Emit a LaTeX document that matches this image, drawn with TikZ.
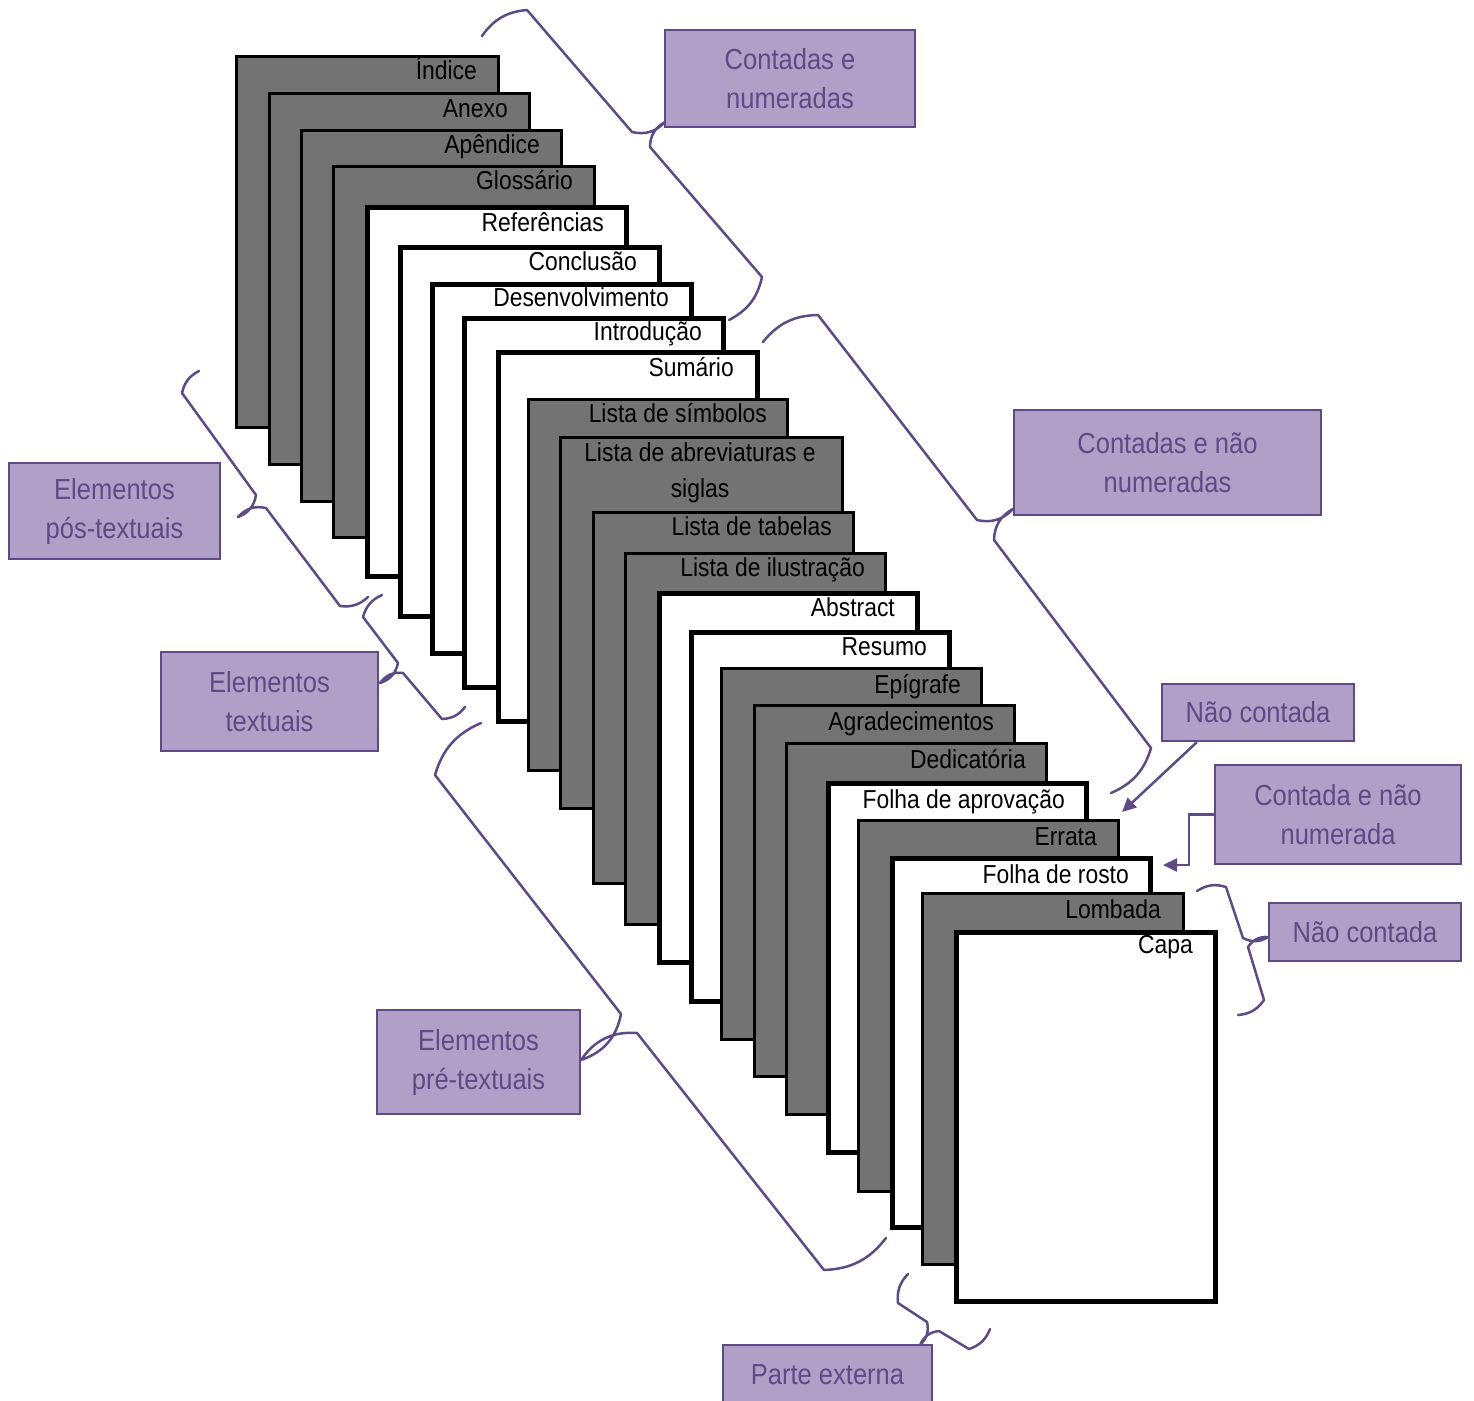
\documentclass[tikz,border=0pt]{standalone}
\usepackage{fontspec}
\setmainfont{Liberation Sans}[FakeStretch=0.88]
\usetikzlibrary{arrows.meta,calc}
\definecolor{pagegray}{HTML}{737373}
\definecolor{lav}{HTML}{B0A0C8}
\definecolor{purp}{HTML}{5E4A85}
\tikzset{
 graypage/.style={draw=black, line width=3, fill=pagegray, inner sep=0, anchor=north west},
 whitepage/.style={draw=black, line width=5, fill=white, inner sep=0, anchor=north west},
 ptext/.style={inner sep=0, anchor=base east, font=\fontsize{26}{36}\selectfont},
 lbl/.style={draw=purp, line width=2.5, fill=lav, text=purp, inner sep=0, align=center, font=\fontsize{29}{39}\selectfont},
 brc/.style={draw=purp, line width=2.5, line cap=round, line join=round},
 conn/.style={draw=purp, line width=2.5, -{Triangle[length=14,width=13]}},
}
\newcommand\gpage[7]{%
  \node[graypage, minimum width={#4-#2-3}, minimum height=371] (#1) at ({#2+1.5},{#3+1.5}) {};
  \node[ptext] (#1t) at (#5,#6) {#7};}
\newcommand\wpage[7]{%
  \node[whitepage, minimum width={#4-#2-5}, minimum height=369] (#1) at ({#2+2.5},{#3+2.5}) {};
  \node[ptext] (#1t) at (#5,#6) {#7};}
% brace with tip to the right ("}" rotated)
\newcommand\bracer[7]{\draw[brc] #1 to[bend left=25] #2 -- #3 to[bend right=30] #4 to[bend right=30] #5 -- #6 to[bend left=25] #7;}
% brace with tip to the left ("{" rotated)
\newcommand\bracel[7]{\draw[brc] #1 to[bend right=25] #2 -- #3 to[bend left=30] #4 to[bend left=30] #5 -- #6 to[bend right=25] #7;}
\begin{document}
\begin{tikzpicture}[x=1pt,y=-1pt]
\path[use as bounding box] (0,0) rectangle (1474,1400);
\fill[white] (0,0) rectangle (1474,1400);
% pages
\gpage{p1}{233}{53}{498}{477}{79}{Índice}
\gpage{p2}{266}{90}{529}{508}{117}{Anexo}
\gpage{p3}{298}{127}{561}{540}{153}{Apêndice}
\gpage{p4}{330}{163}{594}{573}{189}{Glossário}
\wpage{p5}{362}{202}{626}{604}{231}{Referências}
\wpage{p6}{395}{242}{659}{637}{270}{Conclusão}
\wpage{p7}{427}{279}{691}{669}{306}{Desenvolvimento}
\wpage{p8}{459}{313}{723}{702}{340}{Introdução}
\wpage{p9}{493}{347}{757}{734}{376}{Sumário}
\gpage{p10}{525}{396}{787}{767}{422}{Lista de símbolos}
\node[graypage, minimum width=282, minimum height=371] (p11) at (558.5,435.5) {};
\node[ptext, anchor=base] (p11a) at (700,461) {Lista de abreviaturas e};
\node[ptext, anchor=base] (p11b) at (700,497) {siglas};
\gpage{p12}{590}{509}{853}{832}{535}{Lista de tabelas}
\gpage{p13}{622}{550}{885}{865}{576}{Lista de ilustração}
\wpage{p14}{654}{588}{917}{895}{616}{Abstract}
\wpage{p15}{686}{627}{949}{927}{655}{Resumo}
\gpage{p16}{718}{665}{981}{961}{693}{Epígrafe}
\gpage{p17}{751}{702}{1014}{994}{730}{Agradecimentos}
\gpage{p18}{783}{740}{1046}{1026}{768}{Dedicatória}
\wpage{p19}{823}{778}{1086}{1065}{808}{Folha de aprovação}
\gpage{p20}{855}{817}{1118}{1097}{845}{Errata}
\wpage{p21}{887}{853}{1150}{1129}{883}{Folha de rosto}
\gpage{p22}{919}{890}{1183}{1161}{918}{Lombada}
\wpage{p23}{951}{927}{1215}{1193}{953}{Capa}
% braces
\bracer{(482,36)}{(527,10)}{(632,132)}{(665,122)}{(650,147)}{(762,277)}{(729,320)}
\bracer{(763,342)}{(818,315)}{(977,520)}{(1013,509)}{(994,540)}{(1151,748)}{(1111,793)}
\bracer{(1197,891)}{(1226,887)}{(1243,938)}{(1268,937)}{(1248,947)}{(1264,1000)}{(1238,1015)}
\bracel{(199,371)}{(182,393)}{(256,495)}{(238,517)}{(266,508)}{(340,606)}{(368,597)}
\bracel{(382,595)}{(363,617)}{(398,663)}{(380,683)}{(403,673)}{(442,719)}{(465,707)}
\bracel{(481,723)}{(435,775)}{(621,1014)}{(581,1060)}{(637,1033)}{(824,1270)}{(886,1238)}
\bracel{(908,1274)}{(898,1303)}{(927,1322)}{(920,1345)}{(939,1331)}{(969,1349)}{(990,1329)}
% labels
\node[lbl, minimum width=250, minimum height=97] (cn1) at (790,78.5) {Contadas e\\numeradas};
\node[lbl, minimum width=307, minimum height=105] (cn2) at (1167.5,462.5) {Contadas e não\\numeradas};
\node[lbl, minimum width=211, minimum height=96] (pos) at (114.5,511) {Elementos\\pós-textuais};
\node[lbl, minimum width=217, minimum height=99] (txt) at (269.5,701.5) {Elementos\\textuais};
\node[lbl, minimum width=203, minimum height=104] (pre) at (478.5,1062) {Elementos\\pré-textuais};
\node[lbl, minimum width=192, minimum height=57] (nc1) at (1258,712.5) {Não contada};
\node[lbl, minimum width=246, minimum height=99] (cnn) at (1338,814.5) {Contada e não\\numerada};
\node[lbl, minimum width=192, minimum height=58] (nc2) at (1365,932) {Não contada};
\node[lbl, minimum width=209, minimum height=60] (ext) at (827.5,1375) {Parte externa};
% arrows
\coordinate (a1e) at (1122,812);
\draw[conn] ($(nc1.south west)+(36,0)$) -- (a1e);
\coordinate (a2e) at (1163,865);
\draw[conn] (cnn.west) -- ++(-25,0) |- (a2e);
\end{tikzpicture}
\end{document}
